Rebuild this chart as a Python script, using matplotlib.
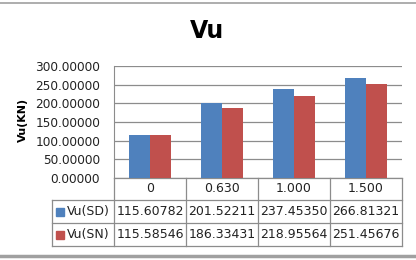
import matplotlib
matplotlib.use('Agg')
import matplotlib.pyplot as plt
from matplotlib.lines import Line2D
from matplotlib.patches import Rectangle
import matplotlib.transforms as mtransforms

# ── Data ─────────────────────────────────────────────────────────────────────
categories = ["0", "0.630", "1.000", "1.500"]
series_names = ["Vu(SD)", "Vu(SN)"]
vu_sd = [115.60782, 201.52211, 237.45350, 266.81321]
vu_sn = [115.58546, 186.33431, 218.95564, 251.45676]
series_vals = [vu_sd, vu_sn]
colors = ["#4F81BD", "#C0504D"]
yticks = [0, 50, 100, 150, 200, 250, 300]

plt.rcParams['font.family'] = ['DejaVu Sans']

W, H = 416, 260
fig = plt.figure(figsize=(W / 100, H / 100), dpi=100)
fig.patch.set_facecolor('white')

# axes in pixel layout
x0, x1, ytop, ybot = 114, 402, 66, 178
ax = fig.add_axes([x0 / W, 1 - ybot / H, (x1 - x0) / W, (ybot - ytop) / H])

n = len(categories)
bw = 0.285
xs = list(range(n))
for k, (vals, c) in enumerate(zip(series_vals, colors)):
    offs = (k - 0.5) * bw
    ax.bar([x + offs for x in xs], vals, width=bw, color=c, zorder=3)

ax.set_xlim(-0.5, n - 0.5)
ax.set_ylim(0, 300)
ax.set_yticks(yticks)
ax.set_yticklabels([f"{v:.5f}" for v in yticks], fontsize=8.7)
ax.yaxis.grid(True, color='#8C8C8C', linewidth=0.9, zorder=0)
ax.set_xticks([])
ax.tick_params(axis='y', length=0, pad=10, colors='#222222')
for s in ['top', 'right', 'bottom']:
    ax.spines[s].set_visible(False)
ax.spines['left'].set_color('#8C8C8C')

# ── Data table under the plot ────────────────────────────────────────────────
trans = mtransforms.blended_transform_factory(ax.transData, ax.transAxes)
h_ax = ybot - ytop
col_px = (x1 - x0) / n
row_y = [0, -22 / h_ax, -45 / h_ax, -68 / h_ax]
x_lab = -0.5 - (x0 - 52) / col_px
bounds = [x_lab] + [i - 0.5 for i in range(n + 1)]
lc = '#8C8C8C'
lw = 0.9
fs_tab = 9

def hline(xa, xb, y):
    ax.add_line(Line2D([xa, xb], [y, y], transform=trans, color=lc,
                       linewidth=lw, clip_on=False))

def vline(x, ya, yb):
    ax.add_line(Line2D([x, x], [ya, yb], transform=trans, color=lc,
                       linewidth=lw, clip_on=False))

hline(-0.5, n - 0.5, row_y[0])
for y in row_y[1:]:
    hline(x_lab, n - 0.5, y)
for x in bounds[1:]:
    vline(x, row_y[0], row_y[3])
vline(x_lab, row_y[1], row_y[3])

for i, cat in enumerate(categories):
    ax.text(i, (row_y[0] + row_y[1]) / 2, cat, transform=trans,
            ha='center', va='center', fontsize=fs_tab, color='#222222')

for r, (name, vals, c) in enumerate(zip(series_names, series_vals, colors)):
    yc = (row_y[r + 1] + row_y[r + 2]) / 2
    for i, v in enumerate(vals):
        ax.text(i, yc, f"{v:.5f}", transform=trans,
                ha='center', va='center', fontsize=fs_tab, color='#222222')
    # legend key square + label
    ax.add_patch(Rectangle((x_lab + 4 / col_px, yc - 4 / h_ax), 8 / col_px, 8 / h_ax,
                           transform=trans, color=c, clip_on=False))
    ax.text(x_lab + 15 / col_px, yc, name, transform=trans, ha='left', va='center',
            fontsize=fs_tab, color='#222222')

# ── Title, axis label, frame lines ───────────────────────────────────────────
fig.text(207 / W, 1 - 31 / H, "Vu", ha='center', va='center',
         fontsize=17, fontweight='bold')
fig.text(23 / W, 1 - 120 / H, "Vu(KN)", ha='center', va='center',
         rotation=90, fontsize=8, fontweight='bold')

fig.add_artist(Line2D([0, 1], [1 - 3 / H, 1 - 3 / H], transform=fig.transFigure,
                      color='#A0A0A0', linewidth=1.2))
fig.add_artist(Line2D([0, 1], [1 - 256 / H, 1 - 256 / H], transform=fig.transFigure,
                      color='#A0A0A0', linewidth=2.5))

fig.savefig("out.png", dpi=100)
